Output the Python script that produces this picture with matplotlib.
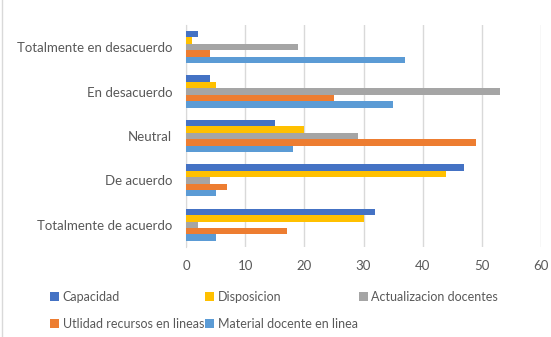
import matplotlib.pyplot as plt
import numpy as np

plt.rcParams['font.family'] = ['Lato', 'DejaVu Sans']

categorias = ['Totalmente de acuerdo', 'De acuerdo', 'Neutral', 'En desacuerdo', 'Totalmente en desacuerdo']
series = ['Capacidad', 'Disposicion', 'Actualizacion docentes',
          'Utlidad recursos en lineas', 'Material docente en linea']
capacidad = [32, 47, 15, 4, 2]
disposicion = [30, 44, 20, 5, 1]
actualizacion = [2, 4, 29, 53, 19]
utilidad = [17, 7, 49, 25, 4]
material = [5, 5, 18, 35, 37]
colores = ['#4472C4', '#FFC000', '#A5A5A5', '#ED7D31', '#5B9BD5']

valores = [capacidad, disposicion, actualizacion, utilidad, material]

fig = plt.figure(figsize=(5.51, 3.37), dpi=100)
ax = fig.add_axes([0.3376, 0.267, 0.6444, 0.659])

y = np.arange(len(categorias))
h = 0.145
barras = []
for k, (vals, col) in enumerate(zip(valores, colores)):
    b = ax.barh(y + (2 - k) * h, vals, height=h, color=col, label=series[k], zorder=3)
    barras.append(b)

ax.set_xlim(0, 60)
ax.set_ylim(-0.5, 4.5)
ax.set_xticks(range(0, 61, 10))
ax.set_yticks(y)
ax.set_yticklabels(categorias)
ax.grid(axis='x', color='#D9D9D9', linewidth=1, zorder=0)
for s in ['top', 'right', 'bottom']:
    ax.spines[s].set_visible(False)
ax.spines['left'].set_color('#D9D9D9')
ax.tick_params(length=0, colors='#595959', labelsize=9.5)
ax.tick_params(axis='x', pad=9)
ax.tick_params(axis='y', pad=10)

orden = [0, 3, 1, 4, 2]
fig.legend([barras[i] for i in orden], [series[i] for i in orden], ncol=3,
           loc='lower left', bbox_to_anchor=(0.075, -0.004), frameon=False,
           fontsize=9, labelcolor='#595959', handlelength=0.7, handleheight=0.7,
           handletextpad=0.3, columnspacing=0.1, labelspacing=1.15, borderaxespad=0.3)

fig.patches.append(plt.Rectangle((0.003, -0.1), 1.5, 1.2, transform=fig.transFigure,
                                 fill=False, edgecolor='#D9D9D9', linewidth=1))

fig.savefig('out.png', dpi=100)
